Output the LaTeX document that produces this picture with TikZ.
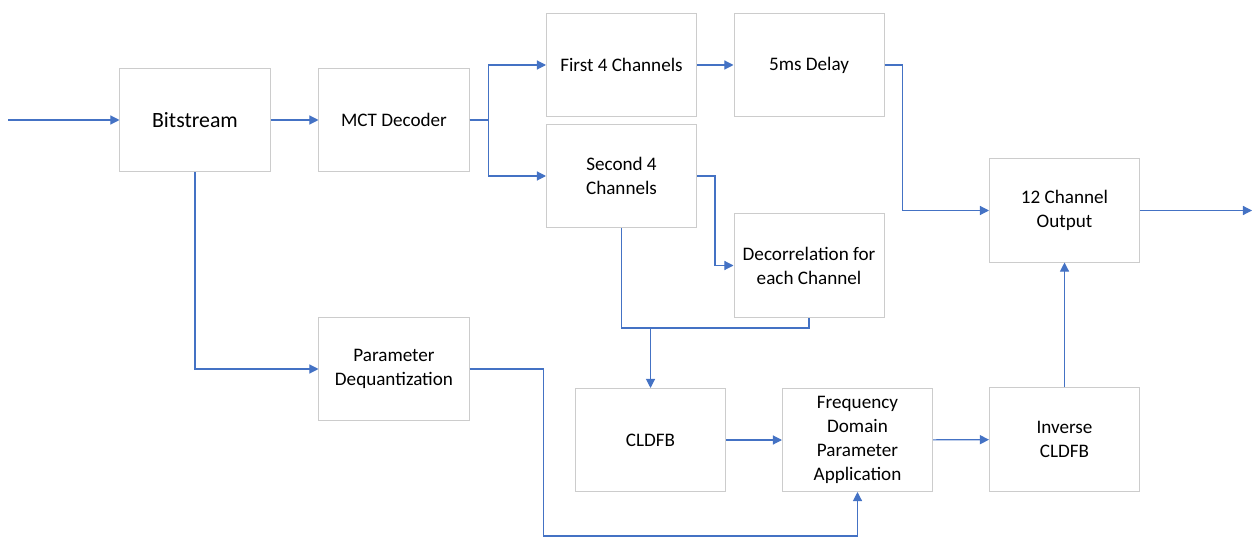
\documentclass[tikz,border=0pt]{standalone}
\usepackage{fontspec}
\setmainfont{Carlito}
\usetikzlibrary{arrows.meta}
\definecolor{flow}{RGB}{68,114,196}
\definecolor{frame}{RGB}{204,204,204}

\begin{document}
\begin{tikzpicture}[x=0.025cm, y=-0.025cm, font=\fontsize{13.6}{17}\selectfont,
  blk/.style={draw=frame, line width=0.7pt, minimum width=3.75cm, minimum height=2.575cm, align=center, inner sep=1pt},
  link/.style={draw=flow, line width=0.8pt},
  arr/.style={link, -{Triangle[length=6.5pt, width=6.5pt]}}]
\useasboundingbox (0,0) rectangle (1254,537);
\node[blk, font=\fontsize{15.5}{19}\selectfont] (bits) at (195,120) {Bitstream};
\node[blk] (mct) at (394,120) {MCT Decoder};
\node[blk] (first) at (621.5,65) {First 4 Channels};
\node[blk] (delay) at (809,65) {5ms Delay};
\node[blk] (second) at (621.5,176) {Second 4\\Channels};
\node[blk] (decor) at (809,265.5) {Decorrelation for\\each Channel};
\node[blk] (param) at (394,369) {Parameter\\Dequantization};
\node[blk] (cldfb) at (650.5,440) {CLDFB};
\node[blk] (freq) at (857.5,440) {Frequency\\Domain\\Parameter\\Application};
\node[blk] (inv) at (1064.5,439.5) {Inverse\\CLDFB};
\node[blk] (outp) at (1064.5,210.5) {12 Channel\\Output};
\coordinate (src) at (8,120);
\coordinate (sink) at (1252,210.5);
\coordinate (merge) at (650.5,328);
\draw[arr] (src) -- (bits);
\draw[arr] (bits) -- (mct);
\draw[arr] (mct.east) -- ++(19,0) |- (first.west);
\draw[arr] (mct.east) -- ++(19,0) |- (second.west);
\draw[arr] (first) -- (delay);
\draw[arr] (delay.east) -- ++(18,0) |- (outp.west);
\draw[arr] (second.east) -- ++(18,0) |- (decor.west);
\draw[link] (second.south) -- ++(0,100) -| (decor.south);
\draw[arr] (merge) -- (cldfb);
\draw[arr] (cldfb) -- (freq);
\draw[arr] (freq) -- (inv);
\draw[arr] (inv) -- (outp);
\draw[arr] (outp) -- (sink);
\draw[arr] (bits.south) |- (param.west);
\draw[arr] (param.east) -- ++(74,0) -- ++(0,167) -| (freq.south);
\end{tikzpicture}
\end{document}
